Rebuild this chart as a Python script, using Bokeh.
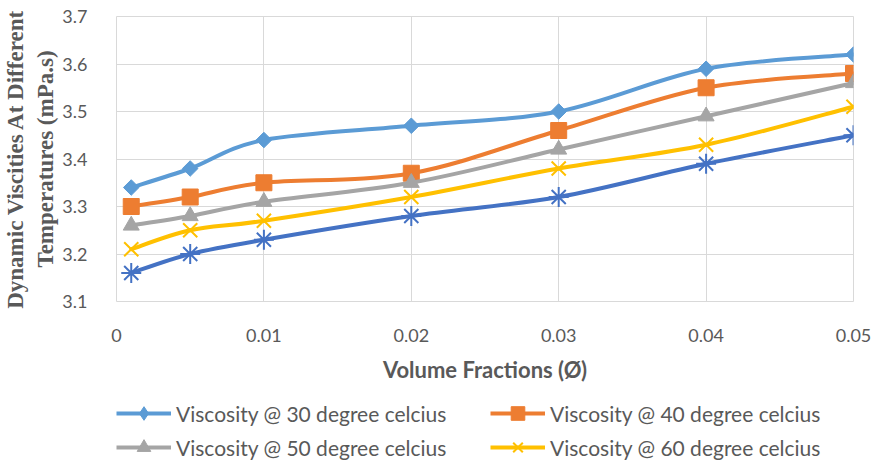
import numpy as np
from bokeh.plotting import figure
from bokeh.layouts import column
from bokeh.models import Range1d, FixedTicker, Legend, LegendItem
from bokeh.embed import file_html
from bokeh.resources import INLINE

# Volume fractions of the nanofluid samples
volume_fraction = [0.001, 0.005, 0.01, 0.02, 0.03, 0.04, 0.05]

# Dynamic viscosity (mPa.s) at each temperature
visc_30 = [3.34, 3.38, 3.44, 3.47, 3.50, 3.59, 3.62]
visc_40 = [3.30, 3.32, 3.35, 3.37, 3.46, 3.55, 3.58]
visc_50 = [3.26, 3.28, 3.31, 3.35, 3.42, 3.49, 3.56]
visc_60 = [3.21, 3.25, 3.27, 3.32, 3.38, 3.43, 3.51]
visc_70 = [3.16, 3.20, 3.23, 3.28, 3.32, 3.39, 3.45]

x_ticks = [0, 0.01, 0.02, 0.03, 0.04, 0.05]
x_tick_labels = ["0", "0.01", "0.02", "0.03", "0.04", "0.05"]
y_ticks = [3.1, 3.2, 3.3, 3.4, 3.5, 3.6, 3.7]
y_tick_labels = ["3.1", "3.2", "3.3", "3.4", "3.5", "3.6", "3.7"]

TEXT = "#595959"
GRID = "#D9D9D9"
SANS = "Lato"

LEGEND_H = 68

p = figure(
    width=877, height=461 - LEGEND_H,
    x_range=Range1d(0, 0.05), y_range=Range1d(3.1, 3.7),
    output_backend="svg", toolbar_location=None,
    min_border_left=114, min_border_right=24,
    min_border_top=16, min_border_bottom=92,
    background_fill_color="white", border_fill_color="white",
)
p.outline_line_color = GRID

# axes
for ax in (p.xaxis[0], p.yaxis[0]):
    ax.axis_line_color = None
    ax.major_tick_line_color = None
    ax.minor_tick_line_color = None
    ax.major_label_text_color = TEXT
    ax.major_label_text_font = SANS
    ax.major_label_text_font_size = "18px"

p.xaxis.ticker = FixedTicker(ticks=x_ticks)
p.xaxis.major_label_overrides = dict(zip(x_ticks, x_tick_labels))
p.xaxis.major_label_standoff = 21
p.xaxis.axis_label = "Volume Fractions (Ø)"
p.xaxis.axis_label_text_font = SANS
p.xaxis.axis_label_text_font_style = "bold"
p.xaxis.axis_label_text_font_size = "22px"
p.xaxis.axis_label_text_color = TEXT
p.xaxis.axis_label_standoff = 11

p.yaxis.ticker = FixedTicker(ticks=y_ticks)
p.yaxis.major_label_overrides = dict(zip(y_ticks, y_tick_labels))
p.yaxis.major_label_standoff = 23
p.yaxis.axis_label = "Dynamic Viscities At Different\nTemperatures (mPa.s)"
p.yaxis.axis_label_text_font = "Liberation Serif"
p.yaxis.axis_label_text_font_style = "bold"
p.yaxis.axis_label_text_font_size = "23px"
p.yaxis.axis_label_text_color = TEXT
p.yaxis.axis_label_standoff = 1

p.xgrid.ticker = FixedTicker(ticks=x_ticks)
p.ygrid.ticker = FixedTicker(ticks=y_ticks)
p.xgrid.grid_line_color = GRID
p.ygrid.grid_line_color = GRID


def smooth_segments(xs, ys):
    """Cubic Bezier pieces through the points (Catmull-Rom style smoothing)."""
    xs = np.asarray(xs, float)
    ys = np.asarray(ys, float)
    n = len(xs)
    px = np.concatenate([[xs[0]], xs, [xs[-1]]])
    py = np.concatenate([[ys[0]], ys, [ys[-1]]])
    seg = dict(x0=[], y0=[], x1=[], y1=[], cx0=[], cy0=[], cx1=[], cy1=[])
    for i in range(n - 1):
        a, b, c, d = i, i + 1, i + 2, i + 3
        seg["x0"].append(px[b]); seg["y0"].append(py[b])
        seg["x1"].append(px[c]); seg["y1"].append(py[c])
        seg["cx0"].append(px[b] + (px[c] - px[a]) / 6)
        seg["cy0"].append(py[b] + (py[c] - py[a]) / 6)
        seg["cx1"].append(px[c] - (px[d] - px[b]) / 6)
        seg["cy1"].append(py[c] - (py[d] - py[b]) / 6)
    return seg


# name, values, colour, marker in the plot, marker used for the legend key
series = [
    ("Viscosity @ 30 degree celcius", visc_30, "#5B9BD5",
     dict(marker="square", size=11, angle=np.pi / 4), "diamond"),
    ("Viscosity @ 40 degree celcius", visc_40, "#ED7D31",
     dict(marker="square", size=16), "square"),
    ("Viscosity @ 50 degree celcius", visc_50, "#A5A5A5",
     dict(marker="triangle", size=16), "triangle"),
    ("Viscosity @ 60 degree celcius", visc_60, "#FFC000",
     dict(marker="x", size=20, line_width=2), "x"),
    ("Viscosity @ 70 degree celcius", visc_70, "#4472C4",
     dict(marker="asterisk", size=20, line_width=2), "asterisk"),
]

# strip under the chart that carries the legend
lg = figure(
    width=877, height=LEGEND_H,
    x_range=Range1d(0, 1), y_range=Range1d(0, 1),
    output_backend="svg", toolbar_location=None,
    x_axis_location=None, y_axis_location=None,
    min_border=0, background_fill_color="white", border_fill_color="white",
)
lg.outline_line_color = None
lg.xgrid.visible = False
lg.ygrid.visible = False

nan = [float("nan")]
keys = {}
for name, vals, color, mk, key_marker in series:
    seg = smooth_segments(volume_fraction, vals)
    p.bezier(**seg, line_color=color, line_width=4, line_cap="round")
    kw = dict(mk)
    lw = kw.pop("line_width", 1)
    if kw["marker"] in ("x", "asterisk"):
        p.scatter(volume_fraction, vals, line_color=color, line_width=lw, **kw)
        key_pt = lg.scatter(nan, nan, marker=key_marker, line_color=color, line_width=lw)
    else:
        p.scatter(volume_fraction, vals, fill_color=color, line_color=color, **kw)
        key_pt = lg.scatter(nan, nan, marker=key_marker, fill_color=color, line_color=color)
    key_line = lg.line(nan, nan, line_color=color, line_width=4)
    keys[name] = LegendItem(label=name, renderers=[key_line, key_pt])

# two columns, filled column by column: 30 / 50 on the left, 40 / 60 on the right
order = ["Viscosity @ 30 degree celcius", "Viscosity @ 50 degree celcius",
         "Viscosity @ 40 degree celcius", "Viscosity @ 60 degree celcius"]

legend = Legend(
    items=[keys[k] for k in order], ncols=2, location=(0, -3),
    glyph_width=55, glyph_height=34, label_height=34, label_standoff=5,
    label_width=314, spacing=0, padding=0, margin=0,
    border_line_color=None, background_fill_alpha=0,
    label_text_font=SANS, label_text_font_size="21px", label_text_color=TEXT,
)
lg.add_layout(legend, "center")

open("out.html", "w").write(file_html(column(p, lg, spacing=0), INLINE))
